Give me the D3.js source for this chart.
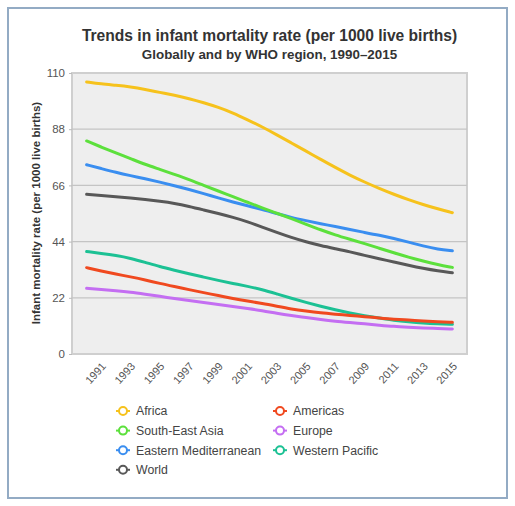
<!DOCTYPE html>
<html><head><meta charset="utf-8">
<script src="https://cdn.jsdelivr.net/npm/d3@7"></script>
<style>body{margin:0;background:#fff;font-family:"Liberation Sans",Arial,sans-serif;}</style>
</head><body><svg id="c" width="515" height="506"></svg>
<script>
const years = d3.range(1990, 2016);
const tickYears = [1991,1993,1995,1997,1999,2001,2003,2005,2007,2009,2011,2013,2015];
const yTicks = [0,22,44,66,88,110];
const regions = ["Africa","Americas","South-East Asia","Europe","Eastern Mediterranean","Western Pacific","World"];
const colors = ["#f6c21c","#f0491f","#5ce03c","#c46ef2","#3a8ef0","#1cc194","#585858"];
const africa = [106.5,105.7,105.2,104.6,103.6,102.4,101.3,100.0,98.4,96.6,94.4,91.7,88.9,85.8,82.6,79.4,76.2,73.0,70.0,67.3,64.8,62.5,60.4,58.5,56.8,55.3];
const americas = [33.8,32.5,31.3,30.2,29.0,27.6,26.4,25.2,24.0,22.9,21.7,20.7,19.8,18.7,17.6,16.8,16.1,15.6,15.1,14.6,14.1,13.6,13.3,12.9,12.6,12.4];
const sear = [83.4,81.0,78.7,76.5,74.2,72.3,70.3,68.3,66.0,63.8,61.6,59.4,57.2,55.1,53.0,50.8,48.6,46.6,44.9,43.2,41.4,39.6,37.9,36.4,35.0,33.9];
const europe = [25.7,25.3,24.8,24.2,23.4,22.6,21.7,20.9,20.1,19.4,18.6,17.8,17.0,15.9,15.0,14.3,13.5,12.8,12.3,11.8,11.3,10.8,10.5,10.2,10.0,9.8];
const emr = [74.1,72.6,71.1,69.8,68.6,67.3,65.9,64.4,62.8,61.1,59.5,58.0,56.6,55.0,53.4,52.2,51.0,49.9,48.7,47.6,46.5,45.2,43.8,42.3,41.0,40.4];
const wpr = [40.1,39.4,38.6,37.5,35.9,34.2,32.8,31.4,30.1,28.8,27.6,26.5,25.2,23.5,21.8,20.2,18.7,17.3,16.0,15.0,14.1,13.2,12.6,12.1,11.8,11.6];
const world = [62.5,62.1,61.6,61.1,60.5,59.8,59.0,57.8,56.4,55.0,53.5,51.8,49.7,47.6,45.6,43.9,42.4,41.2,40.0,38.6,37.3,36.0,34.7,33.5,32.5,31.8];
const seriesValues = [africa,americas,sear,europe,emr,wpr,world];

const svg = d3.select("#c");
svg.append("rect").attr("x",8).attr("y",8).attr("width",499).attr("height",490)
  .attr("fill","#fff").attr("stroke","#93abc4").attr("stroke-width",2);

const L=72,R=467,T=73,B=354;
const x = d3.scalePoint().domain(years).range([L,R]).padding(1);
const y = d3.scaleLinear().domain([0,110]).range([B,T]);

svg.append("rect").attr("x",L).attr("y",T).attr("width",R-L).attr("height",B-T)
  .attr("fill","#eeeeee").attr("stroke","#cfcfcf").attr("stroke-width",2);

svg.append("g").selectAll("line").data(yTicks.filter(d=>d>0&&d<110)).join("line")
  .attr("x1",L).attr("x2",R).attr("y1",d=>y(d)).attr("y2",d=>y(d))
  .attr("stroke","#c4c4c4").attr("stroke-width",1.2);

const ya = svg.append("g").attr("transform",`translate(${L},0)`)
  .call(d3.axisLeft(y).tickValues(yTicks).tickSize(3).tickPadding(4));
ya.select(".domain").remove();
ya.selectAll("line").attr("stroke","#bbb");
ya.selectAll("text").attr("fill","#555").style("font-size","11.5px").style("font-family","Liberation Sans, Arial, sans-serif");

const xa = svg.append("g").attr("transform",`translate(0,${B})`)
  .call(d3.axisBottom(x).tickValues(tickYears).tickSize(0).tickPadding(8));
xa.select(".domain").remove();
xa.selectAll("text").attr("fill","#555").style("font-size","11px").style("font-family","Liberation Sans, Arial, sans-serif")
  .attr("text-anchor","end").attr("y",0).attr("dy","0.35em").attr("transform","translate(2,10) rotate(-48)");

const line = d3.line().x((d,i)=>x(years[i])).y(d=>y(d)).curve(d3.curveBasis);
const order = [6,5,3,1,4,2,0];
svg.append("g").selectAll("path").data(order).join("path")
  .attr("d",k=>line(seriesValues[k])).attr("fill","none")
  .attr("stroke",k=>colors[k]).attr("stroke-width",3).attr("stroke-linecap","round").attr("stroke-linejoin","round");

svg.append("text").attr("x",269.5).attr("y",41).attr("text-anchor","middle")
  .attr("fill","#333").style("font-size","15.6px").style("font-weight","bold")
  .text("Trends in infant mortality rate (per 1000 live births)");
svg.append("text").attr("x",269.5).attr("y",59).attr("text-anchor","middle")
  .attr("fill","#333").style("font-size","13.4px").style("font-weight","bold")
  .text("Globally and by WHO region, 1990–2015");
svg.append("text").attr("transform","translate(40,213) rotate(-90)").attr("text-anchor","middle")
  .attr("fill","#333").style("font-size","11.5px").style("font-weight","bold")
  .text("Infant mortality rate (per 1000 live births)");

const lg = svg.append("g").selectAll("g").data(regions).join("g")
  .attr("transform",(d,i)=>`translate(${i%2===0?123:280},${411+Math.floor(i/2)*19.6})`);
lg.append("line").attr("x1",-7).attr("x2",7).attr("stroke",(d,i)=>colors[i]).attr("stroke-width",2);
lg.append("circle").attr("r",4).attr("fill","#fff").attr("stroke",(d,i)=>colors[i]).attr("stroke-width",2);
lg.append("text").attr("x",13).attr("dy","0.35em").attr("fill","#444").style("font-size","12.3px").text(d=>d);
</script></body></html>
